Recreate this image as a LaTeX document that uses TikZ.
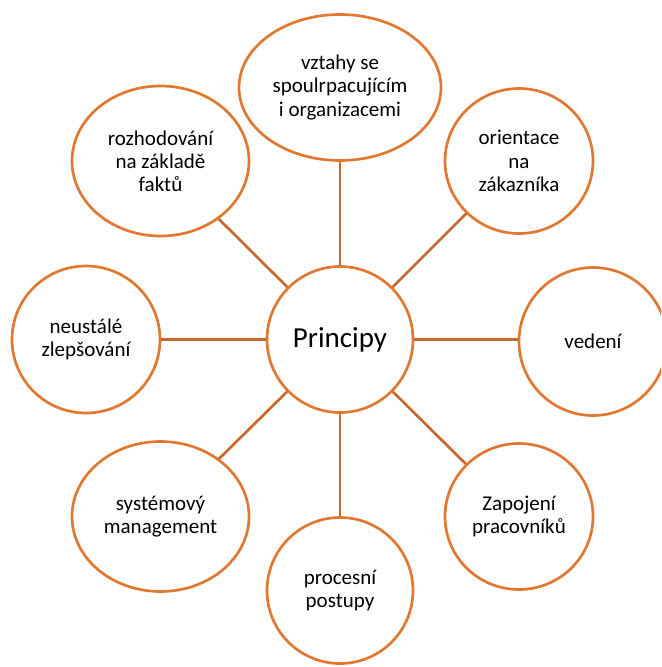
\documentclass[tikz,border=0pt]{standalone}
\usepackage{fontspec}
\setmainfont{Carlito}
\usetikzlibrary{shapes.geometric}
\definecolor{ringorange}{HTML}{E2782F}
\definecolor{spokeorange}{HTML}{C9682B}
\begin{document}
\begin{tikzpicture}[x=0.75pt,y=-0.75pt,
  bubble/.style={ellipse, draw=ringorange, line width=2pt, fill=white,
    inner sep=0pt, align=center, text=black,
    font=\fontsize{15.75}{17.4}\selectfont},
  hub/.style={bubble, font=\fontsize{21.75}{24}\selectfont},
  spoke/.style={draw=spokeorange, line width=2pt}]
\useasboundingbox[fill=white] (0,0) rectangle (661,667);
\clip (0,0) rectangle (661,667);

\node[hub, minimum width=109.5pt, minimum height=109.5pt] (c) at (340,339.5) {Principy};

\node[bubble, minimum width=151.5pt, minimum height=109.5pt] (t) at (340,87.5)
  {vztahy se\\spoulrpacujícím\\i organizacemi};
\node[bubble, minimum width=132.75pt, minimum height=112.5pt] (tl) at (160.5,161)
  {rozhodování\\na základě\\faktů};
\node[bubble, minimum width=111pt, minimum height=108.75pt] (tr) at (519,161)
  {orientace\\na\\zákazníka};
\node[bubble, minimum width=111pt, minimum height=110.25pt] (l) at (86,339.5)
  {neustálé\\zlepšování};
\node[bubble, minimum width=111pt, minimum height=111pt] (r) at (593,341.5)
  {vedení};
\node[bubble, minimum width=132.75pt, minimum height=112.5pt] (bl) at (160.5,516.5)
  {systémový\\management};
\node[bubble, minimum width=109.5pt, minimum height=109.5pt] (b) at (340,590.5)
  {procesní\\postupy};
\node[bubble, minimum width=111pt, minimum height=109.5pt] (br) at (519,516.5)
  {Zapojení\\pracovníků};

\foreach \n in {t,tl,tr,l,bl,b,br}
  \draw[spoke] (c) -- (\n);
% the spoke to "vedení" stays level with the hub
\draw[spoke] (c) -- (c -| r.west);
\end{tikzpicture}
\end{document}
